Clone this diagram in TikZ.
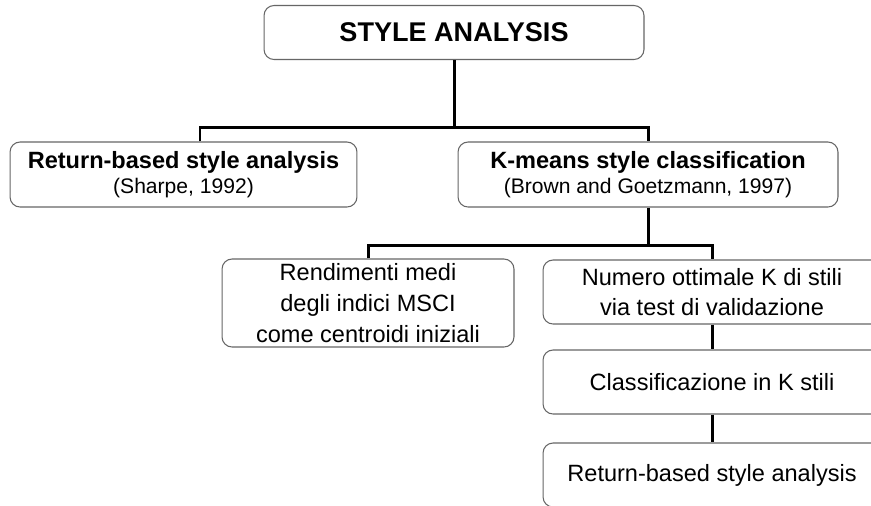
\documentclass[tikz,border=0pt]{standalone}
\usepackage{fontspec}
\setmainfont{Liberation Sans}
\usetikzlibrary{calc}

\begin{document}
\begin{tikzpicture}[x=0.02cm, y=-0.02cm,
    box/.style={draw=black!60, line width=0.6pt, rounded corners=0.2cm, fill=white, align=center, inner sep=0pt},
    link/.style={line width=1.7pt},
    txt/.style={font=\fontsize{13.4}{17.5}\selectfont}]
      \useasboundingbox (0, 0) rectangle (871, 505);
      \clip (0, 0) rectangle (871, 505);
      \fill[white] (0, 0) rectangle (871, 505);

      \node[box, minimum width=7.6cm, minimum height=1.08cm, font=\fontsize{15.4}{18}\selectfont\bfseries] (top) at (454, 32.5) {STYLE ANALYSIS};
      \node[box, minimum width=6.94cm, minimum height=1.3cm] (ret) at (183.5, 174.5) {{\fontsize{13.4}{15}\selectfont\bfseries Return-based style analysis}\\[2pt] {\fontsize{12}{13}\selectfont (Sharpe, 1992)}};
      \node[box, minimum width=7.6cm, minimum height=1.3cm] (kmeans) at (648, 174.5) {{\fontsize{13.4}{15}\selectfont\bfseries K-means style classification}\\[2pt] {\fontsize{12}{13}\selectfont (Brown and Goetzmann, 1997)}};
      \node[box, txt, minimum width=5.84cm, minimum height=1.76cm] (rend) at (368, 303) {Rendimenti medi\\degli indici MSCI\\come centroidi iniziali};
      \node[box, txt, minimum width=6.76cm, minimum height=1.28cm] (num) at (712, 292) {Numero ottimale K di stili\\via test di validazione};
      \node[box, txt, minimum width=6.76cm, minimum height=1.28cm] (cls) at (712, 382) {Classificazione in K stili};
      \node[box, txt, minimum width=6.76cm, minimum height=1.28cm] (rbsa) at (712, 475) {Return-based style analysis};

      \coordinate (j1) at (454, 127);
      \coordinate (j1l) at (200, 127);
      \coordinate (j1r) at (648, 127);
      \coordinate (j2) at (648, 245);

      \draw[link] (top) -- (j1);
      \draw[link] (j1l |- ret.north) -- (j1l) -- (j1r) -- (kmeans.north);
      \draw[link] (kmeans) -- (j2);
      \draw[link] (rend.north) |- (j2) -| (num.north);
      \draw[link] (num) -- (cls);
      \draw[link] (cls) -- (rbsa);
    \end{tikzpicture}
\end{document}
